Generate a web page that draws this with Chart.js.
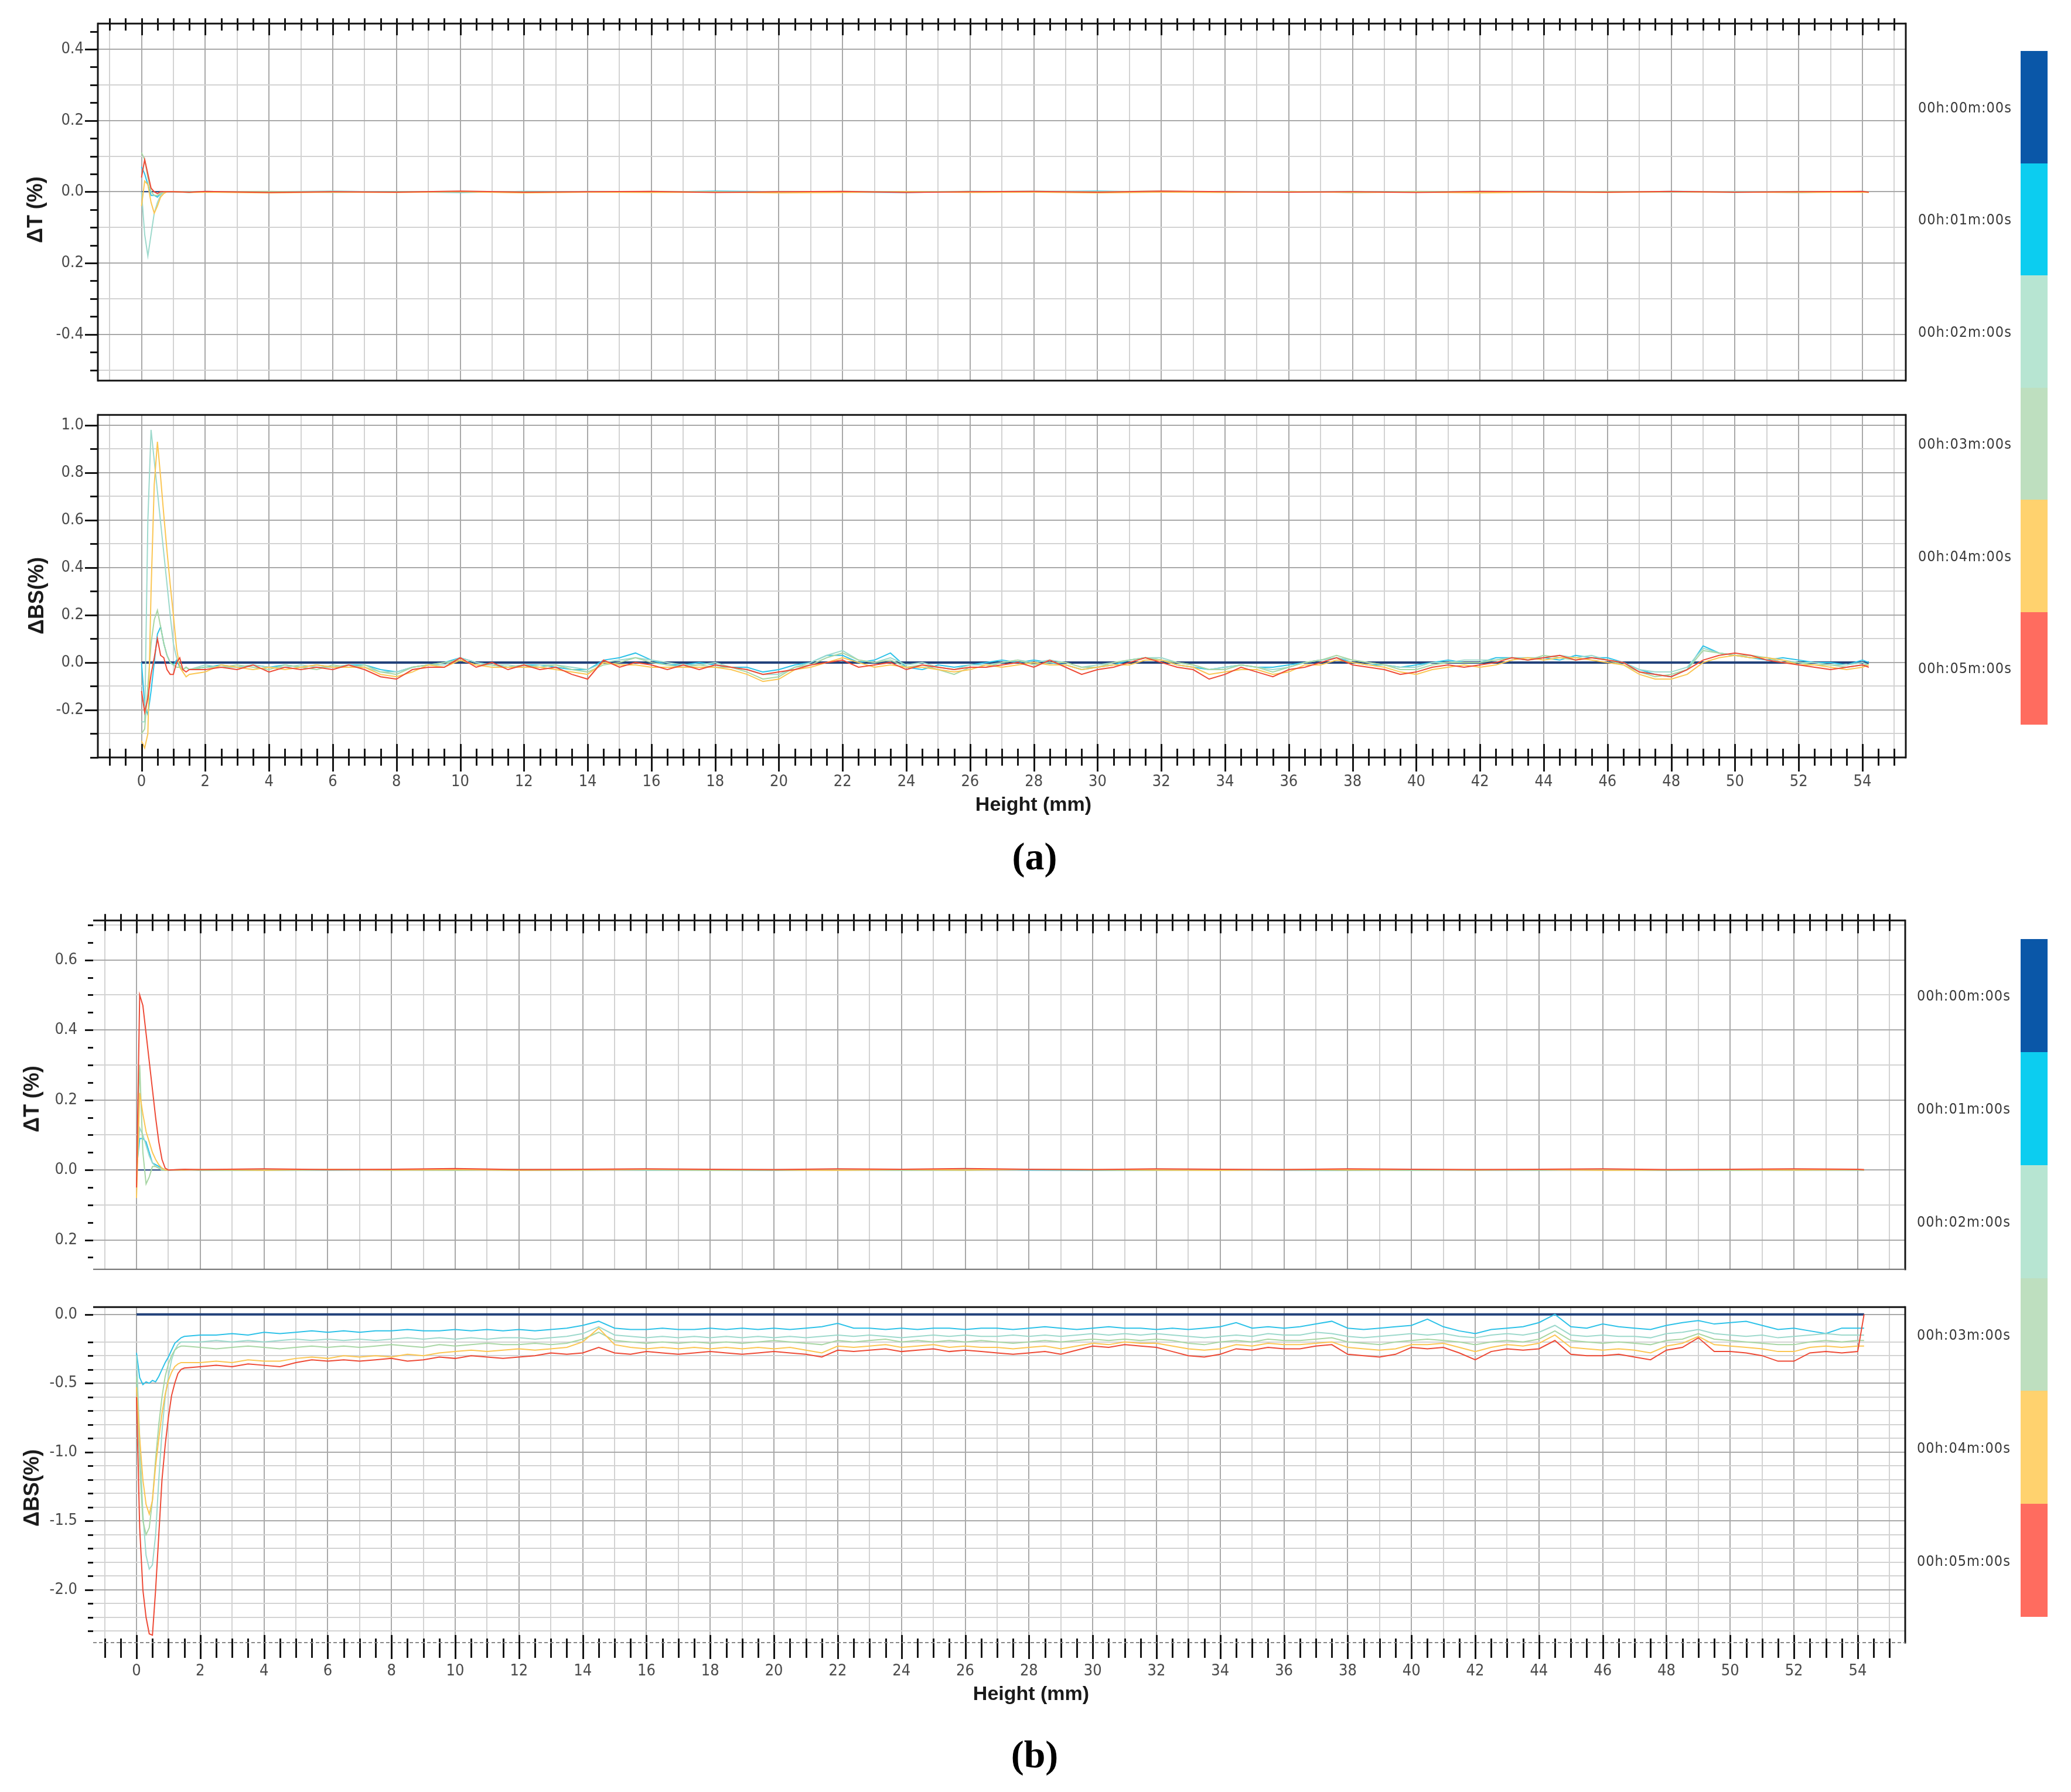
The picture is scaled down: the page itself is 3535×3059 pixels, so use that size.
<!DOCTYPE html>
<html>
<head>
<meta charset="utf-8">
<title>ΔT / ΔBS profiles</title>
<script src="https://cdn.jsdelivr.net/npm/chart.js@4.4.1/dist/chart.umd.min.js"></script>
<style>
  html, body { margin: 0; padding: 0; background: #fff; }
  #page { position: relative; width: 3535px; height: 3059px; overflow: hidden; background: #fff; }
  #page canvas { position: absolute; left: 0; }
  .ytitle { position: absolute; font: bold 36px 'Liberation Sans', Arial, sans-serif; color: #1a1a1a; white-space: nowrap; transform: translate(-50%, -50%) rotate(-90deg); }
  .xtitle { position: absolute; font: bold 34px 'Liberation Sans', Arial, sans-serif; color: #1a1a1a; white-space: nowrap; transform: translate(-50%, -50%); }
  .caption { position: absolute; font: bold 66px 'Liberation Serif', 'Times New Roman', serif; color: #000; white-space: nowrap; transform: translate(-50%, -50%); }
  .swatch { position: absolute; left: 3449px; width: 46px; }
  .legend-label { position: absolute; font: 25px 'Liberation Sans Narrow', 'DejaVu Sans Condensed', Arial, sans-serif; color: #3a3a3a; letter-spacing: 1px; white-space: nowrap; transform: translateY(-50%); }
</style>
</head>
<body>
<div id="page">
  <canvas id="dtA" width="3535" height="690" style="top:0px"></canvas>
  <canvas id="bsA" width="3535" height="692" style="top:668px"></canvas>
  <canvas id="dtB" width="3535" height="682" style="top:1528px"></canvas>
  <canvas id="bsB" width="3535" height="692" style="top:2188px"></canvas>
</div>
<script>
// ---- data ----
const timeLabels = ['00h:00m:00s', '00h:01m:00s', '00h:02m:00s', '00h:03m:00s', '00h:04m:00s', '00h:05m:00s'];

// height positions (mm) of the transmission profiles
const heightT = [0, 0.1, 0.2, 0.3, 0.4, 0.5, 0.6, 0.7, 0.8, 0.9, 1.0,
  1.5, 2, 4, 6, 8, 10, 12, 14, 16, 18, 20, 22, 24, 26, 28, 30, 32, 34, 36, 38, 40, 42, 44, 46, 48, 50, 52, 54, 54.2];

// height positions (mm) of the backscattering profiles
const heightBS = [0, 0.1, 0.2, 0.3, 0.4, 0.5, 0.6, 0.7, 0.8, 0.9, 1.0, 1.1, 1.2, 1.3, 1.4, 1.5,
  2, 2.5, 3, 3.5, 4, 4.5, 5, 5.5, 6, 6.5,
  7, 7.5, 8, 8.5, 9, 9.5, 10, 10.5, 11, 11.5,
  12, 12.5, 13, 13.5, 14, 14.5, 15, 15.5, 16, 16.5,
  17, 17.5, 18, 18.5, 19, 19.5, 20, 20.5, 21, 21.5,
  22, 22.5, 23, 23.5, 24, 24.5, 25, 25.5, 26, 26.5,
  27, 27.5, 28, 28.5, 29, 29.5, 30, 30.5, 31, 31.5,
  32, 32.5, 33, 33.5, 34, 34.5, 35, 35.5, 36, 36.5,
  37, 37.5, 38, 38.5, 39, 39.5, 40, 40.5, 41, 41.5,
  42, 42.5, 43, 43.5, 44, 44.5, 45, 45.5, 46, 46.5,
  47, 47.5, 48, 48.5, 49, 49.5, 50, 50.5, 51, 51.5,
  52, 52.5, 53, 53.5, 54, 54.2];

// reference profile (00 min) is the zero line
const refHeight = [0, 54.2];
const refValue = [0, 0];

// (a) delta T, 01..05 min
const dtA01 = [0.07, 0.05, 0.02, -0.01, -0.01, -0.015, -0.005, 0, 0, 0, 0,
  -0.002, 0.001, -0.002, 0.001, 0, -0.002, 0.001, 0, -0.001, 0.002,
  0, -0.001, -0.002, 0.001, 0, 0.002, -0.001, 0, 0.001, -0.002,
  0, 0.001, 0, -0.001, 0.001, 0, -0.002, 0.001, 0];
const dtA02 = [0, -0.12, -0.18, -0.12, -0.06, -0.03, -0.01, 0, 0, 0, 0,
  0.001, -0.001, 0, 0.002, -0.001, 0, -0.002, 0.001, 0, -0.001,
  0.001, 0, -0.001, 0, 0.002, 0, -0.001, 0.001, 0, 0.001,
  -0.001, 0, 0.002, 0, -0.001, 0.001, 0, -0.001, 0];
const dtA03 = [0.11, 0.09, 0.04, 0, -0.01, -0.01, -0.005, 0, 0, 0, 0,
  -0.001, 0, 0.001, -0.002, 0, 0.001, 0, -0.001, 0.001, 0,
  -0.002, 0.001, 0, 0.001, -0.001, 0, 0.002, -0.001, 0, -0.001,
  0.001, 0, -0.001, 0.001, 0, -0.002, 0.001, 0, 0];
const dtA04 = [-0.04, 0.03, 0.02, -0.03, -0.06, -0.04, -0.015, -0.005, 0, 0, 0,
  -0.002, -0.001, -0.003, -0.001, -0.002, 0, -0.003, -0.001, -0.002, -0.001,
  -0.003, -0.002, 0, -0.002, -0.001, -0.003, -0.001, -0.002, 0, -0.002,
  -0.001, -0.003, -0.001, -0.002, 0, -0.001, -0.002, -0.001, -0.002];
const dtA05 = [0.04, 0.09, 0.05, 0.01, 0, -0.005, 0, 0, 0, 0, 0,
  -0.001, 0.001, -0.002, 0, -0.001, 0.002, -0.001, 0, 0.001, -0.002,
  0, 0.001, -0.002, 0, 0.001, -0.001, 0.002, 0, -0.001, 0,
  -0.002, 0.001, 0, -0.001, 0.001, -0.001, 0, 0.001, -0.001];

// (a) delta BS, 01..05 min
const bsA01 = [0, -0.18, -0.22, -0.12, 0, 0.12, 0.15, 0.08, 0.03, 0, -0.01, 0.01, -0.02, -0.03, -0.02, -0.03,
  -0.02, -0.01, -0.02, -0.01, -0.02, -0.01, -0.02, -0.01, -0.02, -0.01,
  -0.01, -0.03, -0.04, -0.02, -0.01, 0, 0.02, 0, -0.01, -0.02,
  -0.01, -0.01, -0.02, -0.03, -0.03, 0.01, 0.02, 0.04, 0.01, -0.01,
  -0.01, 0, -0.01, -0.02, -0.02, -0.04, -0.03, -0.01, 0, 0.03,
  0.03, 0, 0.01, 0.04, -0.02, -0.03, -0.01, -0.02, -0.01, 0,
  0.01, 0, 0.01, 0, -0.01, -0.03, -0.02, -0.01, 0.01, 0.02,
  0.01, -0.01, -0.02, -0.03, -0.02, -0.01, -0.02, -0.02, -0.01, 0,
  0.01, 0.02, 0, -0.01, -0.01, -0.02, -0.01, 0, 0.01, 0,
  0, 0.02, 0.02, 0.01, 0.02, 0.01, 0.03, 0.02, 0.02, 0,
  -0.03, -0.05, -0.06, -0.03, 0.07, 0.04, 0.03, 0.02, 0.01, 0.02,
  0.01, 0, 0, -0.01, 0.01, 0];
const bsA02 = [-0.25, -0.25, 0.6, 0.98, 0.85, 0.72, 0.59, 0.46, 0.33, 0.2, 0.08, 0.02, -0.01, -0.03, -0.02, -0.03,
  -0.01, -0.02, -0.02, -0.01, -0.02, -0.02, -0.01, -0.02, -0.02, -0.01,
  -0.02, -0.04, -0.04, -0.02, -0.01, -0.01, 0.02, 0, -0.01, -0.01,
  -0.02, -0.01, -0.01, -0.02, -0.03, 0, 0.01, 0.02, 0.01, 0,
  -0.01, -0.01, 0, -0.02, -0.03, -0.05, -0.05, -0.02, 0, 0.03,
  0.05, 0.01, 0, 0.02, -0.01, 0, -0.02, -0.03, -0.01, -0.01,
  0, 0.01, 0, 0.01, 0, -0.02, -0.01, 0, 0.01, 0.02,
  0.02, 0, -0.01, -0.03, -0.02, -0.01, -0.02, -0.03, -0.02, 0,
  0.01, 0.02, 0.01, 0, -0.01, -0.02, -0.02, 0, 0, 0.01,
  0.01, 0.01, 0.02, 0.02, 0.02, 0.03, 0.02, 0.03, 0.01, 0,
  -0.03, -0.04, -0.04, -0.02, 0.06, 0.04, 0.03, 0.02, 0.02, 0.01,
  0, 0, -0.01, -0.01, 0, -0.01];
const bsA03 = [-0.3, -0.28, -0.1, 0.08, 0.18, 0.22, 0.15, 0.08, 0.03, 0, -0.01, -0.02, -0.02, -0.03, -0.02, -0.03,
  -0.02, -0.02, -0.01, -0.02, -0.03, -0.01, -0.02, -0.03, -0.01, -0.02,
  -0.01, -0.04, -0.05, -0.02, -0.01, 0, 0.01, -0.01, -0.01, -0.02,
  -0.01, -0.02, -0.01, -0.03, -0.04, -0.01, 0, 0.02, 0, -0.01,
  -0.02, -0.01, -0.02, -0.02, -0.04, -0.07, -0.06, -0.02, -0.01, 0.02,
  0.04, 0.01, 0, 0.01, -0.02, -0.01, -0.03, -0.05, -0.02, -0.02,
  0, 0.01, -0.01, 0, 0, -0.02, -0.02, 0, 0.01, 0.02,
  0.01, 0, -0.01, -0.03, -0.03, -0.01, -0.02, -0.04, -0.02, 0,
  0.01, 0.03, 0.01, 0, -0.01, -0.03, -0.03, -0.01, 0, 0,
  0, 0.01, 0.02, 0.01, 0.03, 0.02, 0.01, 0.02, 0.01, -0.01,
  -0.04, -0.06, -0.05, -0.03, 0.05, 0.04, 0.03, 0.03, 0.02, 0,
  0, -0.01, -0.01, -0.02, -0.01, -0.01];
const bsA04 = [-0.33, -0.36, -0.3, 0.3, 0.75, 0.93, 0.78, 0.62, 0.47, 0.33, 0.2, 0.06, -0.02, -0.04, -0.06, -0.05,
  -0.04, -0.01, -0.02, -0.03, -0.02, -0.03, -0.02, -0.01, -0.02, -0.02,
  -0.02, -0.05, -0.06, -0.04, -0.01, -0.02, 0.01, -0.01, -0.02, -0.02,
  -0.02, -0.02, -0.03, -0.04, -0.05, 0, -0.01, -0.01, -0.02, -0.02,
  -0.02, -0.02, -0.02, -0.03, -0.05, -0.08, -0.07, -0.03, -0.02, 0,
  0.02, 0, -0.02, -0.01, -0.02, -0.02, -0.03, -0.04, -0.03, -0.01,
  -0.02, -0.01, 0, -0.01, -0.01, -0.03, -0.02, -0.01, -0.01, 0.01,
  0.01, -0.01, -0.02, -0.05, -0.04, -0.03, -0.03, -0.05, -0.04, -0.01,
  -0.01, 0.01, 0, -0.01, -0.02, -0.04, -0.05, -0.03, -0.02, -0.01,
  -0.02, -0.01, 0.01, 0.02, 0.01, 0.02, 0.02, 0.01, 0, -0.01,
  -0.05, -0.07, -0.07, -0.05, 0, 0.02, 0.03, 0.02, 0.02, 0.01,
  -0.01, -0.01, -0.02, -0.03, -0.02, -0.01];
const bsA05 = [-0.12, -0.21, -0.15, -0.05, 0.02, 0.1, 0.03, 0.02, -0.03, -0.05, -0.05, 0, 0.02, -0.03, -0.04, -0.03,
  -0.03, -0.02, -0.03, -0.01, -0.04, -0.02, -0.03, -0.02, -0.03, -0.01,
  -0.03, -0.06, -0.07, -0.03, -0.02, -0.02, 0.02, -0.02, 0, -0.03,
  -0.01, -0.03, -0.02, -0.05, -0.07, 0.01, -0.02, 0, -0.01, -0.03,
  -0.01, -0.03, -0.01, -0.02, -0.03, -0.05, -0.04, -0.03, -0.01, 0,
  0.01, -0.02, -0.01, 0, -0.03, -0.01, -0.02, -0.03, -0.02, -0.02,
  -0.01, 0, -0.02, 0.01, -0.02, -0.05, -0.03, -0.02, 0, 0.02,
  0, -0.02, -0.03, -0.07, -0.05, -0.02, -0.04, -0.06, -0.03, -0.02,
  0, 0.02, -0.01, -0.02, -0.03, -0.05, -0.04, -0.02, -0.01, -0.02,
  -0.01, 0, 0.02, 0.01, 0.02, 0.03, 0.01, 0.02, 0.01, 0,
  -0.04, -0.05, -0.06, -0.03, 0.01, 0.03, 0.04, 0.03, 0.01, 0,
  -0.01, -0.02, -0.03, -0.02, -0.01, -0.02];

// (b) delta T, 01..05 min
const dtB01 = [0, 0.09, 0.09, 0.08, 0.05, 0.02, 0.015, 0.01, 0.005, 0, 0,
  0.001, 0, -0.001, 0.001, 0, 0.002, -0.001, 0, 0.001, 0,
  -0.001, 0.001, 0, 0.002, 0, -0.001, 0, 0.001, 0, -0.001,
  0.001, 0, 0, 0.001, -0.001, 0, 0.001, 0, 0];
const dtB02 = [0, 0.12, 0.1, 0.07, 0.04, 0.02, 0.01, 0.005, 0, 0, 0,
  0, 0.001, 0, -0.001, 0.001, 0, 0, 0.002, -0.001, 0,
  0.001, 0, -0.001, 0, 0.001, 0, 0.001, -0.001, 0, 0.001,
  0, -0.001, 0.001, 0, 0, 0.001, -0.001, 0, 0];
const dtB03 = [-0.02, 0.3, 0.05, -0.04, -0.02, 0.01, 0.01, 0.005, 0, 0, 0,
  0.001, -0.001, 0, 0.001, 0, -0.001, 0.002, 0, 0.001, -0.001,
  0, 0.001, 0, -0.001, 0.002, 0, -0.001, 0, 0.001, 0,
  -0.001, 0.001, 0, 0.001, 0, -0.001, 0, 0.001, 0];
const dtB04 = [-0.08, 0.22, 0.16, 0.11, 0.08, 0.05, 0.03, 0.015, 0.005, 0, 0,
  0, 0.001, -0.001, 0.002, 0, 0.001, -0.001, 0, 0.002, 0.001,
  0, -0.001, 0.001, 0, 0.002, 0.001, 0, -0.001, 0.001, 0,
  0.002, 0, 0.001, -0.001, 0, 0.001, 0, 0.001, 0];
const dtB05 = [-0.05, 0.5, 0.47, 0.39, 0.31, 0.23, 0.15, 0.08, 0.03, 0.005, 0,
  0.002, 0.001, 0.003, 0.001, 0.002, 0.004, 0.001, 0.002, 0.003, 0.002,
  0.001, 0.003, 0.002, 0.004, 0.002, 0.001, 0.003, 0.002, 0.001, 0.003,
  0.002, 0.001, 0.002, 0.003, 0.001, 0.002, 0.003, 0.002, 0.001];

// (b) delta BS, 01..05 min
const bsB01 = [-0.28, -0.46, -0.51, -0.49, -0.5, -0.48, -0.49, -0.45, -0.4, -0.35, -0.31, -0.26, -0.21, -0.19, -0.17, -0.16,
  -0.15, -0.15, -0.14, -0.15, -0.13, -0.14, -0.13, -0.12, -0.13, -0.12,
  -0.13, -0.12, -0.12, -0.11, -0.12, -0.12, -0.11, -0.12, -0.11, -0.12,
  -0.11, -0.12, -0.11, -0.1, -0.08, -0.05, -0.1, -0.11, -0.11, -0.1,
  -0.11, -0.11, -0.1, -0.11, -0.1, -0.11, -0.1, -0.11, -0.1, -0.09,
  -0.065, -0.1, -0.1, -0.11, -0.1, -0.11, -0.1, -0.1, -0.11, -0.1,
  -0.1, -0.11, -0.1, -0.09, -0.1, -0.11, -0.1, -0.09, -0.1, -0.1,
  -0.11, -0.1, -0.11, -0.1, -0.09, -0.06, -0.1, -0.09, -0.1, -0.09,
  -0.07, -0.05, -0.1, -0.11, -0.1, -0.09, -0.08, -0.035, -0.09, -0.12,
  -0.14, -0.11, -0.1, -0.09, -0.06, 0, -0.09, -0.1, -0.07, -0.09,
  -0.1, -0.11, -0.08, -0.06, -0.045, -0.07, -0.06, -0.05, -0.08, -0.11,
  -0.1, -0.12, -0.14, -0.1, -0.1, -0.1];
const bsB02 = [-0.3, -0.9, -1.45, -1.75, -1.85, -1.82, -1.6, -1.2, -0.85, -0.6, -0.45, -0.33, -0.26, -0.22, -0.2, -0.2,
  -0.2, -0.19, -0.2, -0.19, -0.2, -0.19, -0.18, -0.19, -0.18, -0.19,
  -0.18, -0.19, -0.18, -0.17, -0.18, -0.17, -0.18, -0.17, -0.18, -0.17,
  -0.17, -0.18, -0.17, -0.16, -0.14, -0.09, -0.15, -0.16, -0.17, -0.16,
  -0.17, -0.16, -0.17, -0.16, -0.17, -0.16, -0.17, -0.16, -0.17, -0.16,
  -0.15, -0.16, -0.15, -0.16, -0.17, -0.16, -0.15, -0.16, -0.15, -0.16,
  -0.16, -0.15, -0.16, -0.15, -0.16, -0.15, -0.14, -0.15, -0.14, -0.15,
  -0.14, -0.15, -0.16, -0.17, -0.16, -0.15, -0.16, -0.14, -0.15, -0.15,
  -0.13, -0.14, -0.16, -0.17, -0.16, -0.15, -0.14, -0.15, -0.14, -0.16,
  -0.17, -0.15, -0.14, -0.15, -0.13, -0.08, -0.15, -0.16, -0.15, -0.16,
  -0.16, -0.17, -0.14, -0.13, -0.11, -0.14, -0.15, -0.16, -0.15, -0.17,
  -0.16, -0.15, -0.14, -0.15, -0.15, -0.15];
const bsB03 = [-0.45, -1.1, -1.5, -1.6, -1.55, -1.35, -1.05, -0.8, -0.6, -0.45, -0.36, -0.3, -0.26, -0.24, -0.23, -0.23,
  -0.24, -0.25, -0.24, -0.23, -0.24, -0.25, -0.24, -0.23, -0.24, -0.23,
  -0.24, -0.23, -0.22, -0.23, -0.24, -0.22, -0.23, -0.22, -0.21, -0.22,
  -0.22, -0.21, -0.22, -0.21, -0.18, -0.13, -0.19, -0.2, -0.21, -0.2,
  -0.21, -0.2, -0.21, -0.2, -0.21, -0.2, -0.19, -0.2, -0.21, -0.22,
  -0.19, -0.2, -0.19, -0.18, -0.2, -0.19, -0.2, -0.19, -0.2, -0.19,
  -0.2, -0.21, -0.2, -0.19, -0.2, -0.19, -0.18, -0.19, -0.18, -0.19,
  -0.18, -0.19, -0.21, -0.22, -0.2, -0.19, -0.2, -0.18, -0.19, -0.19,
  -0.18, -0.17, -0.2, -0.21, -0.22, -0.2, -0.19, -0.18, -0.19, -0.2,
  -0.22, -0.2, -0.19, -0.2, -0.18, -0.12, -0.19, -0.2, -0.21, -0.2,
  -0.21, -0.22, -0.19, -0.18, -0.14, -0.18, -0.19, -0.2, -0.21, -0.22,
  -0.22, -0.2, -0.19, -0.2, -0.19, -0.19];
const bsB04 = [-0.53, -0.9, -1.2, -1.38, -1.45, -1.35, -1.1, -0.9, -0.72, -0.58, -0.48, -0.42, -0.38, -0.36, -0.35, -0.35,
  -0.35, -0.34, -0.35, -0.33, -0.34, -0.34, -0.32, -0.31, -0.32, -0.3,
  -0.31, -0.3, -0.31, -0.29, -0.3, -0.28, -0.27, -0.26, -0.27, -0.26,
  -0.25, -0.26, -0.25, -0.24, -0.2, -0.1, -0.22, -0.24, -0.25, -0.24,
  -0.25, -0.24, -0.25, -0.24, -0.25, -0.24, -0.25, -0.24, -0.26, -0.28,
  -0.23, -0.24, -0.23, -0.22, -0.24, -0.23, -0.22, -0.24, -0.23, -0.24,
  -0.24, -0.25, -0.24, -0.23, -0.25, -0.23, -0.21, -0.22, -0.2, -0.21,
  -0.21, -0.23, -0.25, -0.26, -0.25, -0.22, -0.23, -0.21, -0.22, -0.22,
  -0.21, -0.2, -0.24, -0.25, -0.26, -0.25, -0.22, -0.22, -0.21, -0.24,
  -0.27, -0.24, -0.22, -0.23, -0.21, -0.15, -0.24, -0.25, -0.26, -0.25,
  -0.26, -0.28, -0.23, -0.21, -0.16, -0.22, -0.23, -0.24, -0.25, -0.27,
  -0.27, -0.24, -0.23, -0.24, -0.23, -0.23];
const bsB05 = [-0.6, -1.55, -2.0, -2.2, -2.32, -2.33, -2.0, -1.6, -1.2, -0.95, -0.75, -0.59, -0.5, -0.43, -0.4, -0.39,
  -0.38, -0.37, -0.38, -0.36, -0.37, -0.38, -0.35, -0.33, -0.34, -0.33,
  -0.34, -0.33, -0.32, -0.34, -0.33, -0.31, -0.32, -0.3, -0.31, -0.32,
  -0.31, -0.3, -0.28, -0.29, -0.28, -0.24, -0.28, -0.29, -0.27, -0.28,
  -0.29, -0.28, -0.27, -0.28, -0.29, -0.28, -0.27, -0.28, -0.29, -0.31,
  -0.26, -0.27, -0.26, -0.25, -0.27, -0.26, -0.25, -0.27, -0.26, -0.27,
  -0.28, -0.29, -0.28, -0.27, -0.29, -0.26, -0.23, -0.24, -0.22, -0.23,
  -0.24, -0.27, -0.3, -0.31, -0.29, -0.25, -0.26, -0.24, -0.25, -0.25,
  -0.23, -0.22, -0.29, -0.3, -0.31, -0.29, -0.24, -0.25, -0.24, -0.28,
  -0.33, -0.27, -0.25, -0.26, -0.25, -0.19, -0.29, -0.3, -0.3, -0.29,
  -0.31, -0.33, -0.26, -0.24, -0.17, -0.27, -0.27, -0.28, -0.3, -0.34,
  -0.34, -0.28, -0.27, -0.28, -0.27, 0];

// y tick labels as printed on the figure
const dtTickValsA = [0.4, 0.2, 0, -0.2, -0.4];
const dtTickTextA = ['0.4', '0.2', '0.0', '0.2', '-0.4'];
const bsTickValsA = [1.0, 0.8, 0.6, 0.4, 0.2, 0, -0.2];
const bsTickTextA = ['1.0', '0.8', '0.6', '0.4', '0.2', '0.0', '-0.2'];
const dtTickValsB = [0.6, 0.4, 0.2, 0, -0.2];
const dtTickTextB = ['0.6', '0.4', '0.2', '0.0', '0.2'];
const bsTickValsB = [0, -0.5, -1.0, -1.5, -2.0];
const bsTickTextB = ['0.0', '-0.5', '-1.0', '-1.5', '-2.0'];

// ---- styles ----
const barColors = ['#0a57a8', '#0ccdf0', '#b7e5d2', '#bedfbf', '#ffd26e', '#ff6c5f'];
const lineColors = ['#22417a', '#2ec2e8', '#9dd9cc', '#a8d6a4', '#fbc653', '#ee4a36'];
const tickFont = "'Liberation Sans Narrow', 'DejaVu Sans Condensed', Arial, sans-serif";
const gridDark = '#a9a9a9';
const gridLight = '#d3d3d3';

function near(a, b) { return Math.abs(a - b) < 1e-6; }
function isStep(v, step) { const r = v / step; return Math.abs(r - Math.round(r)) < 1e-6; }
function toPoints(xs, ys) { return xs.map((x, i) => ({ x: x, y: ys[i] })); }

// Frame, crossing tick marks and y tick marks, drawn on top of the curves
const panelFrame = {
  id: 'panelFrame',
  afterDatasetsDraw(chart, args, opts) {
    const ctx = chart.ctx;
    const area = chart.chartArea;
    const xs = chart.scales.x;
    const ys = chart.scales.y;
    ctx.save();
    ctx.lineCap = 'butt';
    ctx.strokeStyle = '#151515';
    ctx.lineWidth = 3;

    // height axis ticks (every 0.5 mm, longer on even mm)
    const edgeY = opts.xEdge === 'top' ? area.top : area.bottom;
    const dir = opts.xEdge === 'top' ? 1 : -1;
    for (let v = Math.ceil(xs.min * 2) / 2; v <= xs.max; v += 0.5) {
      const px = Math.round(xs.getPixelForValue(v)) + 0.5;
      if (px <= area.left + 3 || px >= area.right - 3) continue;
      const even = isStep(v, 2);
      const inner = even ? opts.xTick.evenIn : opts.xTick.oddIn;
      const outer = even ? opts.xTick.evenOut : opts.xTick.oddOut;
      ctx.beginPath();
      ctx.moveTo(px, edgeY - dir * outer);
      ctx.lineTo(px, edgeY + dir * inner);
      ctx.stroke();
    }

    // y ticks
    const step = opts.yStep;
    for (let k = Math.ceil(ys.min / step - 1e-6); k * step <= ys.max + 1e-9; k++) {
      const v = k * step;
      if ((opts.ySkip || []).some(s => near(s, v))) continue;
      const py = Math.round(ys.getPixelForValue(v)) + 0.5;
      const major = opts.yMajor.some(s => near(s, v));
      const len = major ? opts.yTick.major : opts.yTick.minor;
      ctx.beginPath();
      ctx.moveTo(area.left - len, py);
      ctx.lineTo(area.left, py);
      ctx.stroke();
    }

    // frame lines
    opts.frame.forEach(f => {
      ctx.strokeStyle = f.color;
      ctx.lineWidth = f.width;
      ctx.setLineDash(f.dash || []);
      ctx.beginPath();
      if (f.edge === 'top') { ctx.moveTo(area.left, area.top); ctx.lineTo(area.right, area.top); }
      if (f.edge === 'bottom') { ctx.moveTo(area.left, area.bottom); ctx.lineTo(area.right, area.bottom); }
      if (f.edge === 'left') { ctx.moveTo(area.left, area.top - 1.5); ctx.lineTo(area.left, area.bottom + 1.5); }
      if (f.edge === 'right') { ctx.moveTo(area.right, area.top - 1.5); ctx.lineTo(area.right, area.bottom + 1.5); }
      ctx.stroke();
    });
    ctx.restore();
  }
};

function makePanel(p) {
  const canvas = document.getElementById(p.id);
  const canvasTop = parseInt(canvas.style.top, 10);
  const padTop = p.plot.top - canvasTop;
  const xHeight = canvasTop + canvas.height - p.plot.bottom;

  // datasets: red drawn on top, reference line at the bottom
  const order = [5, 4, 3, 2, 1];
  const datasets = order.map(k => ({
    label: timeLabels[k],
    data: toPoints(p.xs, p.series[k - 1]),
    borderColor: lineColors[k],
    borderWidth: 2,
    pointRadius: 0,
    tension: 0,
    fill: false
  }));
  datasets.push({
    label: timeLabels[0],
    data: toPoints(refHeight, refValue),
    borderColor: lineColors[0],
    borderWidth: p.refWidth,
    pointRadius: 0,
    fill: false
  });

  return new Chart(canvas, {
    type: 'line',
    data: { datasets: datasets },
    options: {
      responsive: false,
      animation: false,
      devicePixelRatio: 1,
      events: [],
      parsing: false,
      layout: { padding: { top: padTop, right: canvas.width - p.plot.right, bottom: 0, left: 0 } },
      plugins: {
        legend: { display: false },
        tooltip: { enabled: false },
        panelFrame: p.frameOpts
      },
      scales: {
        x: {
          type: 'linear',
          min: p.xRange[0],
          max: p.xRange[1],
          afterFit: s => { s.height = xHeight; },
          border: { display: false },
          grid: {
            drawTicks: false,
            lineWidth: 2,
            color: c => {
              const v = c.tick.value;
              if (!Number.isInteger(v)) return 'rgba(0,0,0,0)';
              return v % 2 === 0 ? gridDark : gridLight;
            }
          },
          ticks: {
            display: p.showXLabels,
            stepSize: 1,
            includeBounds: false,
            autoSkip: false,
            maxRotation: 0,
            padding: p.xLabelPad,
            color: '#4a4a4a',
            font: { family: tickFont, size: 27 },
            callback: v => (Number.isInteger(v) && v % 2 === 0 && v >= 0 && v <= 54) ? String(v) : ''
          }
        },
        y: {
          type: 'linear',
          position: 'left',
          min: p.yRange[0],
          max: p.yRange[1],
          afterFit: s => { s.width = p.plot.left; },
          border: { display: false },
          grid: {
            drawTicks: false,
            lineWidth: 2,
            color: c => {
              const v = c.tick.value;
              if ((p.ySkip || []).some(s => near(s, v))) return 'rgba(0,0,0,0)';
              if (!isStep(v, p.gridStep)) return 'rgba(0,0,0,0)';
              return isStep(v, p.darkStep) ? gridDark : gridLight;
            }
          },
          ticks: {
            stepSize: p.gridStep,
            includeBounds: false,
            autoSkip: false,
            padding: p.yLabelPad,
            color: '#4a4a4a',
            font: { family: tickFont, size: 27 },
            callback: v => {
              const i = p.tickVals.findIndex(t => near(t, v));
              return i >= 0 ? p.tickText[i] : '';
            }
          }
        }
      }
    },
    plugins: [panelFrame]
  });
}

const solidFrame = [
  { edge: 'top', color: '#151515', width: 3 },
  { edge: 'bottom', color: '#151515', width: 3 },
  { edge: 'left', color: '#151515', width: 3 },
  { edge: 'right', color: '#151515', width: 3 }
];

makePanel({
  id: 'dtA', plot: { left: 167, top: 40, right: 3253, bottom: 666 },
  xRange: [-1.37, 55.36], yRange: [-0.530, 0.472],
  xs: heightT, series: [dtA01, dtA02, dtA03, dtA04, dtA05], refWidth: 2,
  gridStep: 0.1, darkStep: 0.2, tickVals: dtTickValsA, tickText: dtTickTextA,
  showXLabels: false, xLabelPad: 0, yLabelPad: 24,
  frameOpts: { xEdge: 'top', xTick: { evenIn: 20, evenOut: 9, oddIn: 12, oddOut: 9 },
    yStep: 0.05, yMajor: dtTickValsA, yTick: { major: 22, minor: 13 }, frame: solidFrame }
});

makePanel({
  id: 'bsA', plot: { left: 167, top: 688, right: 3253, bottom: 1293 },
  xRange: [-1.37, 55.36], yRange: [-0.400, 1.043],
  xs: heightBS, series: [bsA01, bsA02, bsA03, bsA04, bsA05], refWidth: 4,
  gridStep: 0.1, darkStep: 0.2, tickVals: bsTickValsA, tickText: bsTickTextA,
  showXLabels: true, xLabelPad: 26, yLabelPad: 24,
  frameOpts: { xEdge: 'bottom', xTick: { evenIn: 23, evenOut: 24, oddIn: 15, oddOut: 14 },
    yStep: 0.1, yMajor: bsTickValsA, yTick: { major: 22, minor: 13 }, frame: solidFrame }
});

makePanel({
  id: 'dtB', plot: { left: 159, top: 1558, right: 3252, bottom: 2186 },
  xRange: [-1.36, 55.49], yRange: [-0.284, 0.713],
  xs: heightT, series: [dtB01, dtB02, dtB03, dtB04, dtB05], refWidth: 2,
  gridStep: 0.1, darkStep: 0.2, tickVals: dtTickValsB, tickText: dtTickTextB,
  showXLabels: false, xLabelPad: 0, yLabelPad: 27,
  frameOpts: { xEdge: 'top', xTick: { evenIn: 22, evenOut: 11, oddIn: 18, oddOut: 11 },
    yStep: 0.05, yMajor: dtTickValsB, yTick: { major: 14, minor: 9 },
    frame: [
      { edge: 'top', color: '#151515', width: 3 },
      { edge: 'right', color: '#151515', width: 3 },
      { edge: 'bottom', color: '#6a6a6a', width: 2 }
    ] }
});

makePanel({
  id: 'bsB', plot: { left: 159, top: 2208, right: 3252, bottom: 2804 },
  xRange: [-1.36, 55.49], yRange: [-2.384, 0.053],
  xs: heightBS, series: [bsB01, bsB02, bsB03, bsB04, bsB05], refWidth: 4,
  gridStep: 0.1, darkStep: 0.5, ySkip: [-0.1], tickVals: bsTickValsB, tickText: bsTickTextB,
  showXLabels: true, xLabelPad: 33, yLabelPad: 27,
  frameOpts: { xEdge: 'bottom', xTick: { evenIn: 13, evenOut: 28, oddIn: 7, oddOut: 26 },
    yStep: 0.1, ySkip: [-0.1], yMajor: bsTickValsB, yTick: { major: 14, minor: 9 },
    frame: [
      { edge: 'top', color: '#151515', width: 3 },
      { edge: 'right', color: '#151515', width: 3 },
      { edge: 'bottom', color: '#8a8a8a', width: 2, dash: [6, 4] }
    ] }
});

// ---- titles, captions, colour bars ----
const page = document.getElementById('page');
function addText(cls, text, x, y) {
  const d = document.createElement('div');
  d.className = cls;
  d.textContent = text;
  d.style.left = x + 'px';
  d.style.top = y + 'px';
  page.appendChild(d);
  return d;
}
addText('ytitle', 'ΔT (%)', 60, 358);
addText('ytitle', 'ΔBS(%)', 62, 1017);
addText('ytitle', 'ΔT (%)', 54, 1876);
addText('ytitle', 'ΔBS(%)', 54, 2540);
addText('xtitle', 'Height (mm)', 1764, 1372);
addText('xtitle', 'Height (mm)', 1760, 2890);
addText('caption', '(a)', 1766, 1462);
addText('caption', '(b)', 1766, 2995);

function addColorBar(top, bottom, labelX) {
  const seg = (bottom - top) / timeLabels.length;
  timeLabels.forEach((t, i) => {
    const s = document.createElement('div');
    s.className = 'swatch';
    s.style.top = (top + i * seg) + 'px';
    s.style.height = Math.ceil(seg) + 'px';
    s.style.background = barColors[i];
    page.appendChild(s);
    addText('legend-label', t, labelX, top + i * seg + seg / 2);
  });
}
addColorBar(87, 1236, 3274);
addColorBar(1603, 2760, 3272);
</script>
</body>
</html>
